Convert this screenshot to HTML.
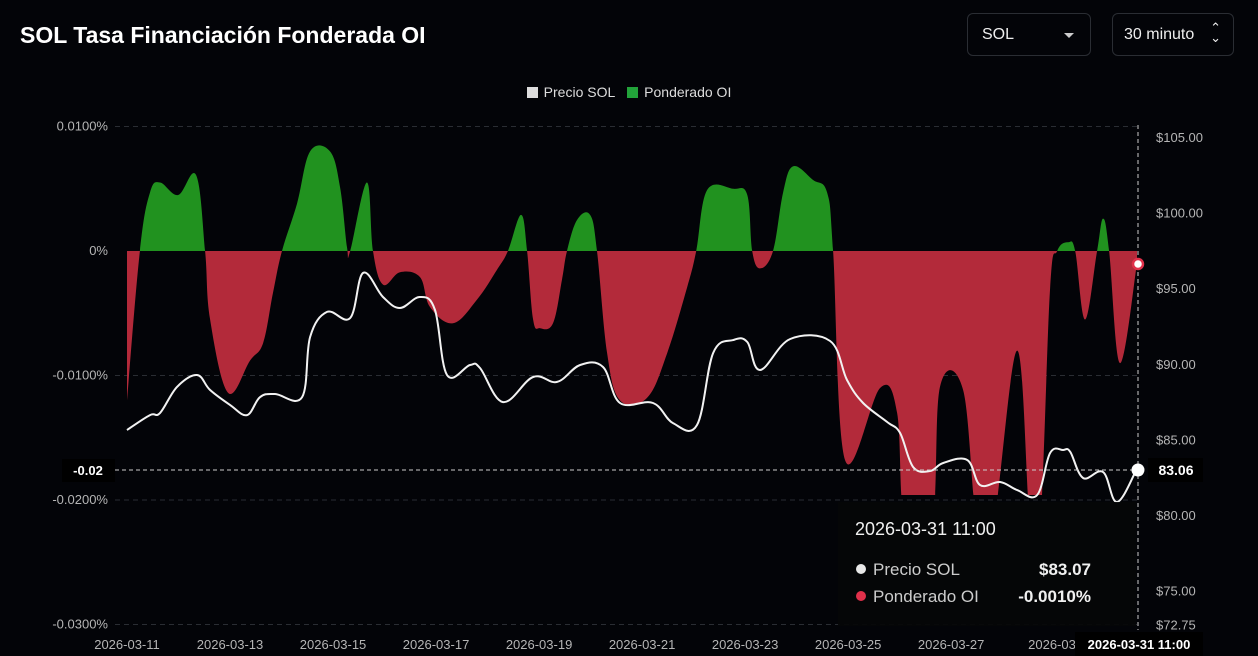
<!DOCTYPE html>
<html><head><meta charset="utf-8">
<style>
body{margin:0;background:#030408;width:1258px;height:656px;overflow:hidden;font-family:"Liberation Sans",sans-serif;color:#fff;position:relative}
.title{position:absolute;left:20px;top:22px;font-size:23px;font-weight:bold}
.sel{position:absolute;top:13px;height:43px;border:1px solid #2a2d33;border-radius:6px;font-size:16px;box-sizing:border-box;padding:12px 14px;color:#eee}
.legend{position:absolute;top:84px;left:0;width:1258px;text-align:center;font-size:14px;color:#ddd}
.legend span{display:inline-block;margin:0 4px}
.sw{display:inline-block;width:11px;height:11px;vertical-align:-1px;margin-right:6px}
</style></head><body>
<div class="title">SOL Tasa Financiación Fonderada OI</div>
<div class="sel" style="left:967px;width:124px">SOL<span style="position:absolute;right:16px;top:19px;border:5px solid transparent;border-top:5px solid #ccc;border-bottom:0"></span></div>
<div class="sel" style="left:1112px;width:122px;padding-left:11px">30 minuto<span style="position:absolute;right:12px;top:9px;font-size:13px;line-height:10px">⌃<br>⌄</span></div>
<div class="legend">
<span><i class="sw" style="background:#ddd"></i>Precio SOL</span>
<span><i class="sw" style="background:#22a33a"></i>Ponderado OI</span>
</div>
<svg id="chart" width="1258" height="656" style="position:absolute;left:0;top:0"></svg>
<script>
const fundHours=[0,6,10.7,15.4,23.8,32.2,36.4,38.7,47.1,57.3,63.4,68,72.2,79.2,85.3,94.6,99.3,102.5,104,111.8,114.6,119.3,127.2,136.5,141.2,151.9,163.1,172.4,177.5,183.6,186.4,189.2,192.5,198.5,202.7,205,209.7,215.8,219,223.7,229.7,242.3,251.7,261,265.2,270.3,282.4,289,291.3,295,301,305.7,310.4,319.7,326.2,329,334.6,350.9,358.8,362.5,375.1,378.8,389.6,396.1,403.6,414.8,420.8,425.5,430.1,433.4,438.5,441.8,446.4,452,454.8,457.6,462.7,470.6];
const fundValues=[-120,0,47,55,45,61,0,-55,-114,-88,-74,-34,0,38,80,80,51,3,0,55,0,-27,-17,-21,-45,-58,-39,-15,0,29,0,-55,-62,-58,-23,0,25,29,0,-82,-120,-118,-82,-29,0,49,50,45,0,-14,0,47,68,57,47,0,-168,-110,-130,-220,-220,-109,-112,-220,-220,-80,-220,-220,-30,0,7,0,-55,0,26,0,-90,-10];
const priceHours=[0,10.7,15.4,23.3,32.6,38.7,48,55.9,62,69,81.6,85.3,93.2,104,110,119.3,127.2,136.5,143.5,149.1,159.8,164.5,175.2,189.2,200.4,211.1,221.8,229.7,245.1,254.4,265.6,273.1,282.4,289,295,309,327.6,335.5,343,354.2,360.2,366.3,374.2,380.3,391.5,397.5,406.8,414.8,424.1,430.1,436.2,439.5,445.5,454.8,461.3,470.6];
const priceValues=[85.62,86.61,86.75,88.47,89.26,88.27,87.28,86.61,87.8,88,87.8,91.77,93.43,93.03,96.01,94.42,93.69,94.42,93.56,89.26,89.92,89.72,87.47,89.13,88.8,89.92,89.79,87.41,87.41,86.08,85.95,90.71,91.57,91.44,89.59,91.64,91.51,88.93,87.41,86.15,85.42,83.17,82.91,83.44,83.64,81.98,82.18,81.65,81.32,84.1,84.3,84.17,82.45,82.84,80.86,83.06];
const leftTicks=[100,0,-100,-200,-300];
const leftTickLabels=["0.0100%","0%","-0.0100%","-0.0200%","-0.0300%"];
const rightTicks=[105,100,95,90,85,80,75,72.75];
const xTickHours=[0,48,96,144,192,240,288,336,384,432];
const xTickLabels=["2026-03-11","2026-03-13","2026-03-15","2026-03-17","2026-03-19","2026-03-21","2026-03-23","2026-03-25","2026-03-27","2026-03-"];
const X0=127,X1=1137,H1=470.6;
const xs=h=>X0+(h/H1)*(X1-X0);
const yL=v=>251-v*1.245;
const yR=p=>137+(105-p)*15.12;
const NS='http://www.w3.org/2000/svg';
const svg=document.getElementById('chart');
function mk(t,a,p){const e=document.createElementNS(NS,t);for(const k in a)e.setAttribute(k,a[k]);(p||svg).appendChild(e);return e;}
function smooth(pts){let d='M'+pts[0][0]+','+pts[0][1];for(let i=0;i<pts.length-1;i++){const p0=pts[Math.max(0,i-1)],p1=pts[i],p2=pts[i+1],p3=pts[Math.min(pts.length-1,i+2)];const t=0.18;const c1=[p1[0]+(p2[0]-p0[0])*t,p1[1]+(p2[1]-p0[1])*t],c2=[p2[0]-(p3[0]-p1[0])*t,p2[1]-(p3[1]-p1[1])*t];d+=' C'+c1[0].toFixed(1)+','+c1[1].toFixed(1)+' '+c2[0].toFixed(1)+','+c2[1].toFixed(1)+' '+p2[0].toFixed(1)+','+p2[1].toFixed(1);}return d;}
leftTicks.forEach((v,i)=>{
 if(v!==0){const g=mk('line',{x1:115,x2:1138,y1:yL(v),y2:yL(v),stroke:'#2a2d33','stroke-dasharray':'5,4'});
 
 }
 const t=mk('text',{x:108,y:yL(v)+4,'text-anchor':'end',fill:'#b5b5b5','font-size':13});t.textContent=leftTickLabels[i];
 
 
});
rightTicks.forEach(p=>{const t=mk('text',{x:1156,y:yR(p)+5,fill:'#b5b5b5','font-size':13});t.textContent='$'+p.toFixed(2);
 
 });
xTickHours.forEach((h,i)=>{const t=mk('text',{x:xs(h),y:649,'text-anchor':'middle',fill:'#b5b5b5','font-size':13});t.textContent=xTickLabels[i];
 
 });
const defs=mk('defs',{});
const cu=mk('clipPath',{id:'cu'},defs);mk('rect',{x:0,y:0,width:1258,height:251},cu);
const cd=mk('clipPath',{id:'cd'},defs);mk('rect',{x:0,y:251,width:1258,height:244},cd);
const fp=fundHours.map((h,i)=>[xs(h),yL(fundValues[i])]);
const area=smooth(fp)+' L'+xs(fundHours[fundHours.length-1])+',251 L'+xs(0)+',251 Z';
const ag=mk('path',{d:area,fill:'#21921f','clip-path':'url(#cu)'});


const ar=mk('path',{d:area,fill:'#b32a3a','clip-path':'url(#cd)'});


const pp=priceHours.map((h,i)=>[xs(h),yR(priceValues[i])]);
const pl=mk('path',{d:smooth(pp),fill:'none',stroke:'#f2f2f2','stroke-width':2});


const ch=mk('line',{x1:115,x2:1138,y1:470,y2:470,stroke:'#ccc','stroke-dasharray':'4,3'});


const cv=mk('line',{x1:1138,x2:1138,y1:125,y2:630,stroke:'#ccc','stroke-dasharray':'4,3'});


const tt=mk('g',{});


mk('rect',{x:838,y:502,width:298,height:124,fill:'#050608',opacity:0.93},tt);
const tx=(x,y,s,txt,o)=>{const t=mk('text',Object.assign({x:x,y:y,fill:'#f0f0f0','font-size':s},o||{}),tt);t.textContent=txt;return t;};
tx(855,535,18,'2026-03-31 11:00');
mk('circle',{cx:861,cy:569,r:5,fill:'#e8e8e8'},tt);
tx(873,575,17,'Precio SOL',{fill:'#ccc'});tx(1091,575,17,'$83.07',{'text-anchor':'end','font-weight':'bold'});
mk('circle',{cx:861,cy:596,r:5,fill:'#e0304a'},tt);
tx(873,602,17,'Ponderado OI',{fill:'#ccc'});tx(1091,602,17,'-0.0010%',{'text-anchor':'end','font-weight':'bold'});
const m1=mk('circle',{cx:1138,cy:264,r:5,fill:'#fff',stroke:'#e0304a','stroke-width':2.5});


const m2=mk('circle',{cx:1138,cy:470,r:6.5,fill:'#fff'});


const b1=mk('g',{});


mk('rect',{x:62,y:459,width:53,height:23,fill:'#000'},b1);
const bt=mk('text',{x:88,y:475,'text-anchor':'middle',fill:'#fff','font-size':13,'font-weight':'bold'},b1);bt.textContent='-0.02';
const b2=mk('g',{});


mk('rect',{x:1148,y:458,width:55,height:24,fill:'#000'},b2);
const bt2=mk('text',{x:1176,y:475,'text-anchor':'middle',fill:'#fff','font-size':14,'font-weight':'bold'},b2);bt2.textContent='83.06';
const b3=mk('g',{});


mk('rect',{x:1075,y:632,width:128,height:24,fill:'#000'},b3);
const bt3=mk('text',{x:1139,y:649,'text-anchor':'middle',fill:'#fff','font-size':13,'font-weight':'bold'},b3);bt3.textContent='2026-03-31 11:00';
</script>
</body></html>
